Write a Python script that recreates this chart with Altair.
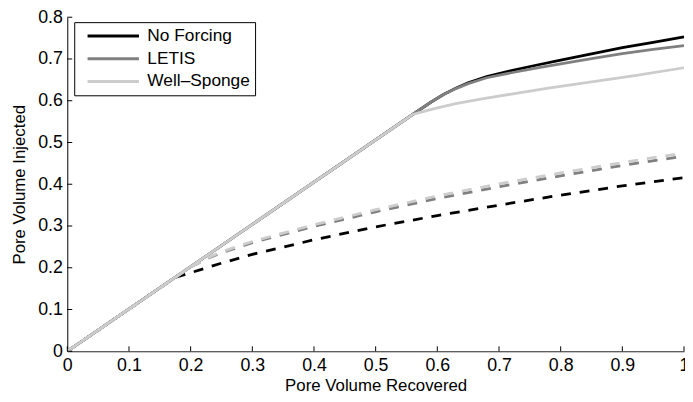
import altair as alt
import pandas as pd

series_names = ["No Forcing", "LETIS", "Well–Sponge"]
series_colors = ["#000000", "#808080", "#cccccc"]

# Solid curves
nf_solid_x = [0, 0.56, 0.59, 0.61, 0.63, 0.65, 0.68, 0.72, 0.76, 0.80, 0.85, 0.90, 0.95, 1.00]
nf_solid_y = [0, 0.567, 0.597, 0.615, 0.630, 0.643, 0.658, 0.672, 0.685, 0.697, 0.712, 0.727, 0.740, 0.753]
le_solid_x = [0, 0.56, 0.59, 0.61, 0.63, 0.65, 0.68, 0.72, 0.76, 0.80, 0.85, 0.90, 0.95, 1.00]
le_solid_y = [0, 0.567, 0.597, 0.615, 0.629, 0.641, 0.655, 0.667, 0.678, 0.688, 0.701, 0.713, 0.723, 0.732]
ws_solid_x = [0, 0.56, 0.58, 0.60, 0.63, 0.67, 0.72, 0.78, 0.85, 0.92, 1.00]
ws_solid_y = [0, 0.567, 0.575, 0.583, 0.593, 0.604, 0.616, 0.630, 0.645, 0.660, 0.679]

# Dashed curves
nf_dash_x = [0, 0.175, 0.20, 0.25, 0.30, 0.40, 0.50, 0.60, 0.70, 0.80, 0.90, 1.00]
nf_dash_y = [0, 0.177, 0.188, 0.211, 0.232, 0.267, 0.298, 0.325, 0.350, 0.374, 0.396, 0.416]
le_dash_x = [0, 0.20, 0.23, 0.25, 0.30, 0.40, 0.50, 0.60, 0.70, 0.80, 0.90, 1.00]
le_dash_y = [0, 0.202, 0.224, 0.236, 0.260, 0.299, 0.334, 0.366, 0.394, 0.420, 0.445, 0.467]
ws_dash_x = [0, 0.20, 0.23, 0.25, 0.30, 0.40, 0.50, 0.60, 0.70, 0.80, 0.90, 1.00]
ws_dash_y = [0, 0.202, 0.225, 0.238, 0.263, 0.303, 0.339, 0.372, 0.401, 0.427, 0.452, 0.475]

x_ticks = [0, 0.1, 0.2, 0.3, 0.4, 0.5, 0.6, 0.7, 0.8, 0.9, 1.0]
y_ticks = [0, 0.1, 0.2, 0.3, 0.4, 0.5, 0.6, 0.7, 0.8]

FONT = "Liberation Sans"
W, H = 624, 338

xscale = alt.Scale(domain=[0, 1], nice=False, zero=False)
yscale = alt.Scale(domain=[0, 0.8], nice=False, zero=False)

xaxis = alt.Axis(values=x_ticks, format="~g", title="Pore Volume Recovered",
                 ticks=False, tickSize=0, grid=False, labelPadding=5, titlePadding=4,
                 domainColor="#222222", domainWidth=1, labelFontSize=18, titleFontSize=17,
                 labelFont=FONT, titleFont=FONT, labelColor="black", titleColor="black",
                 titleFontWeight="normal", labelFlush=False, labelOverlap=False)
yaxis = alt.Axis(values=y_ticks, format="~g", title="Pore Volume Injected",
                 ticks=False, tickSize=0, grid=False, labelPadding=5, titlePadding=9,
                 domainColor="#000000", domainWidth=1, labelFontSize=18, titleFontSize=17,
                 labelFont=FONT, titleFont=FONT, labelColor="black", titleColor="black",
                 titleFontWeight="normal", labelFlush=False, labelOverlap=False)

legend = alt.Legend(title=None, orient="none", legendX=7, legendY=5,
                    symbolType="stroke", symbolSize=2704, symbolStrokeWidth=3,
                    clipHeight=18, rowPadding=5, padding=5, symbolOffset=7, labelOffset=7,
                    strokeColor="black", fillColor="white", labelFontSize=17.5,
                    labelFont=FONT, labelColor="black", labelLimit=0)

color = alt.Color("series:N", scale=alt.Scale(domain=series_names, range=series_colors),
                  legend=legend)


def line_layer(xs, ys, name, dashed):
    df = pd.DataFrame({"x": xs, "y": ys, "series": name})
    kw = dict(strokeWidth=2.8, clip=True)
    if dashed:
        kw["strokeDash"] = [10, 9]
    return alt.Chart(df).mark_line(**kw).encode(
        x=alt.X("x:Q", scale=xscale, axis=xaxis),
        y=alt.Y("y:Q", scale=yscale, axis=yaxis),
        color=color,
    )


layers = [
    line_layer(nf_solid_x, nf_solid_y, series_names[0], False),
    line_layer(nf_dash_x, nf_dash_y, series_names[0], True),
    line_layer(le_solid_x, le_solid_y, series_names[1], False),
    line_layer(le_dash_x, le_dash_y, series_names[1], True),
    line_layer(ws_solid_x, ws_solid_y, series_names[2], False),
    line_layer(ws_dash_x, ws_dash_y, series_names[2], True),
]

xtick_layer = alt.Chart(pd.DataFrame({"x": x_ticks})).mark_rule(color="black", strokeWidth=1).encode(
    x=alt.X("x:Q", scale=xscale, axis=xaxis), y=alt.value(H), y2=alt.value(H - 5))
ytick_layer = alt.Chart(pd.DataFrame({"y": y_ticks})).mark_rule(color="black", strokeWidth=1).encode(
    y=alt.Y("y:Q", scale=yscale, axis=yaxis), x=alt.value(0), x2=alt.value(5))

chart = alt.layer(*layers, xtick_layer, ytick_layer).properties(
    width=W, height=H,
    padding={"left": 60, "top": 7, "right": 1, "bottom": 49},
    autosize=alt.AutoSizeParams(type="none"),
).configure(font=FONT).configure_view(stroke=None)

chart.save("out.html", embed_options={"renderer": "svg", "actions": False})
